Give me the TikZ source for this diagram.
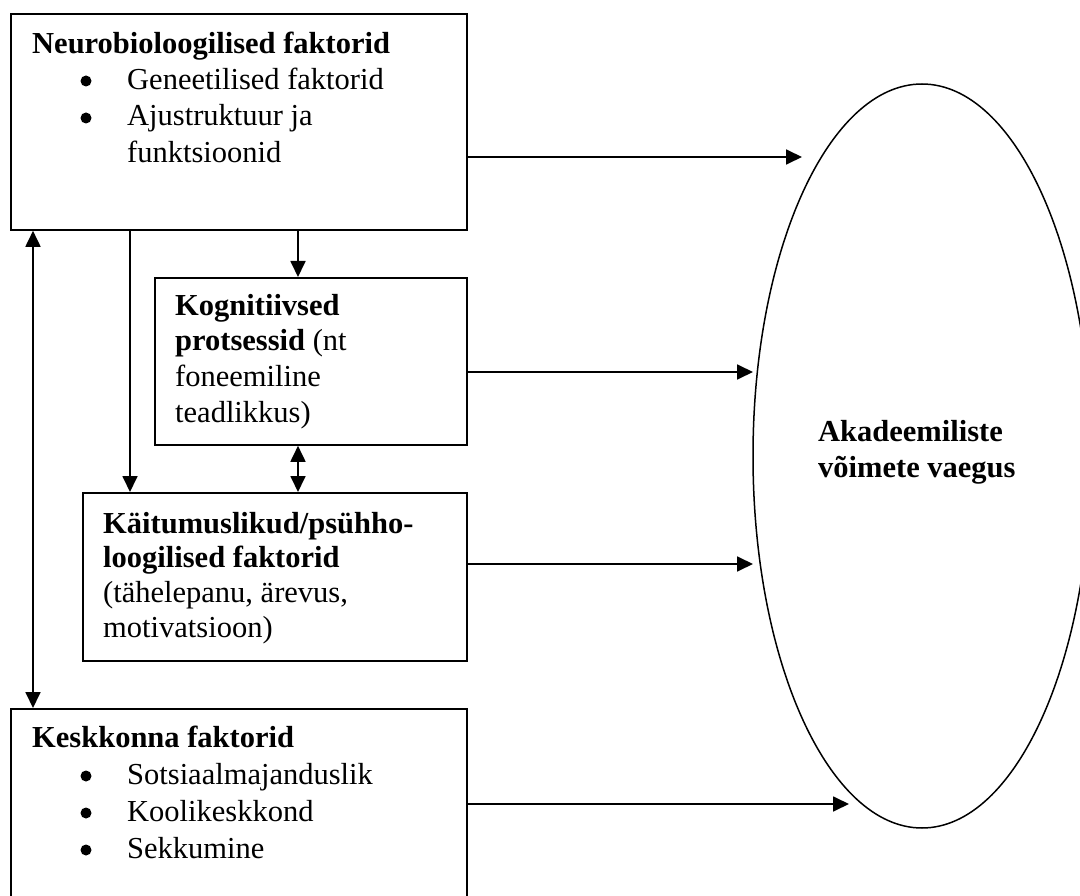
\documentclass[tikz,border=0pt]{standalone}
\usepackage{fontspec}
\setmainfont{Liberation Serif}
\usetikzlibrary{arrows.meta,shapes.geometric}
\begin{document}
\begin{tikzpicture}[x=1pt,y=-1pt,
  box/.style={draw,line width=1.8pt,inner sep=0pt,anchor=north west},
  txt/.style={anchor=north west,inner sep=0pt,align=left},
  bulletdot/.style={fill=black},
  conn/.style={line width=1.8pt,-{Triangle[length=16pt,width=15pt]}},
  dconn/.style={line width=1.8pt,{Triangle[length=16pt,width=15pt]}-{Triangle[length=16pt,width=15pt]}}
]
\useasboundingbox (0,0) rectangle (1080,896);
\fill[white] (0,0) rectangle (1080,896);
\clip (0,0) rectangle (1080,896);

% boxes
\node[box,minimum width=456pt,minimum height=216pt] (neuro) at (10,13) {};
\node[box,minimum width=312pt,minimum height=167pt] (kogn) at (154,277) {};
\node[box,minimum width=384pt,minimum height=168pt] (kait) at (82,492) {};
\node[box,minimum width=456pt,minimum height=200pt] (kesk) at (10,708) {};
\node[draw,ellipse,line width=1.5pt,minimum width=338pt,minimum height=744pt,inner sep=0pt] (out) at (922,456) {};

% texts
\node[txt,font=\fontsize{30.5pt}{36.3pt}\selectfont] (neurotxt) at (32,27.6)
  {\strut\textbf{Neurobioloogilised faktorid}\\
   \hspace*{95pt}Geneetilised faktorid\\
   \hspace*{95pt}Ajustruktuur ja\\
   \hspace*{95pt}funktsioonid};
\node[txt,font=\fontsize{30.5pt}{35.7pt}\selectfont] (kogntxt) at (175,290)
  {\strut\textbf{Kognitiivsed}\\
   \textbf{protsessid} (nt\\
   foneemiline\\
   teadlikkus)};
\node[txt,font=\fontsize{30.5pt}{34.7pt}\selectfont] (kaittxt) at (103,508.7)
  {\strut\textbf{Käitumuslikud/psühho-}\\
   \textbf{loogilised faktorid}\\
   (tähelepanu, ärevus,\\
   motivatsioon)};
\node[txt,font=\fontsize{30.5pt}{37pt}\selectfont] (kesktxt) at (32,721.1)
  {\strut\textbf{Keskkonna faktorid}\\
   \hspace*{95pt}Sotsiaalmajanduslik\\
   \hspace*{95pt}Koolikeskkond\\
   \hspace*{95pt}Sekkumine};
\node[txt,font=\fontsize{30.5pt}{36pt}\selectfont\bfseries] (outtxt) at (818,415.8)
  {\strut Akadeemiliste\\
   võimete vaegus};

% list bullets
\fill[bulletdot] (86,81) circle[radius=5.5pt];
\fill[bulletdot] (86,118) circle[radius=5.5pt];
\fill[bulletdot] (86,776) circle[radius=5.5pt];
\fill[bulletdot] (86,813) circle[radius=5.5pt];
\fill[bulletdot] (86,850) circle[radius=5.5pt];

% connectors to the ellipse
\coordinate (e1) at (802,157);
\coordinate (e2) at (753,372);
\coordinate (e3) at (753,564);
\coordinate (e4) at (849,804);
\draw[conn] (neuro.east |- e1) -- (e1);
\draw[conn] (kogn.east |- e2) -- (e2);
\draw[conn] (kait.east |- e3) -- (e3);
\draw[conn] (kesk.east |- e4) -- (e4);

% vertical connectors
\coordinate (vL) at (33,0);
\coordinate (vM) at (130,0);
\coordinate (vR) at (298,0);
\draw[dconn] (neuro.south -| vL) -- (kesk.north -| vL);
\draw[conn] (neuro.south -| vM) -- (kait.north -| vM);
\draw[conn] (neuro.south -| vR) -- (kogn.north -| vR);
\draw[dconn] (kogn.south -| vR) -- (kait.north -| vR);
\end{tikzpicture}
\end{document}
